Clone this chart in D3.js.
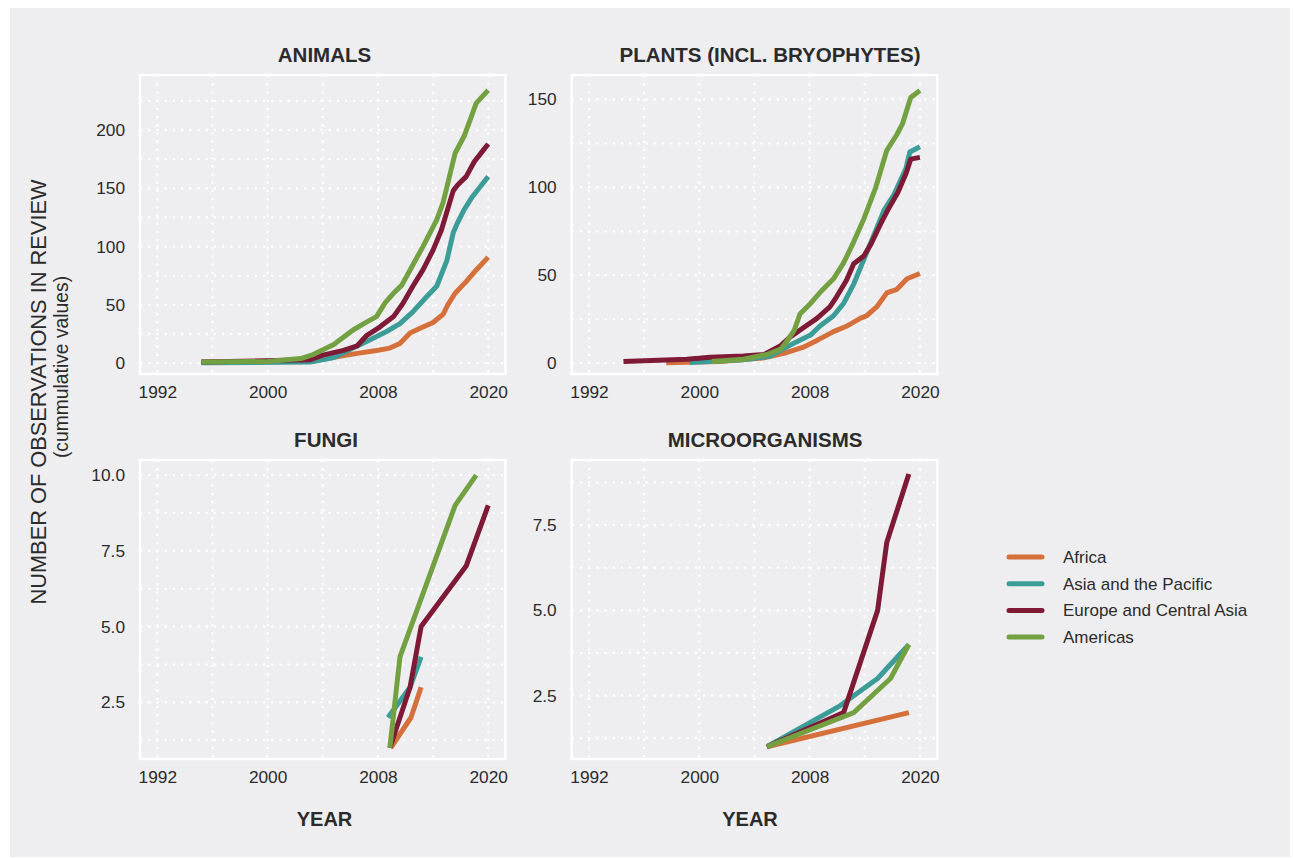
<!DOCTYPE html>
<html><head><meta charset="utf-8">
<script src="https://cdn.jsdelivr.net/npm/d3@7"></script>
<style>
html,body{margin:0;padding:0;background:#fff;}
svg{display:block;font-family:"Liberation Sans", Arial, Helvetica, sans-serif;}
</style></head><body>
<svg id="chart" width="1293" height="859"></svg>
<script>
// ---------------- DATA ----------------
const regions = ["Africa", "Asia and the Pacific", "Europe and Central Asia", "Americas"];
const panelTitles = ["ANIMALS", "PLANTS (INCL. BRYOPHYTES)", "FUNGI", "MICROORGANISMS"];
const xTickValues = [1992, 2000, 2008, 2020];
const yTicksAnimals = [0, 50, 100, 150, 200];
const yTicksPlants = [0, 50, 100, 150];
const yTicksFungi = [2.5, 5.0, 7.5, 10.0];
const yTicksMicro = [2.5, 5.0, 7.5];
const yDomainAnimals = [-9.2, 247.1];
const yDomainPlants = [-6.1, 163.8];
const yDomainFungi = [0.63, 10.5];
const yDomainMicro = [0.64, 9.41];

// [year, cumulative observations]
const animalsAfrica = [[1995.2,1],[2003.1,1.5],[2005,5.5],[2006.5,8.5],[2007.9,11],[2009.3,13],[2010.4,17],[2011.5,26],[2012.6,30],[2014,35],[2015.1,42],[2015.6,50],[2016.4,60],[2017.6,70],[2018.7,80],[2020,91]];
const animalsAsia = [[1995.2,0.5],[2003.1,1],[2004.8,5],[2006.2,13],[2007.4,20],[2008.9,27],[2010.4,34],[2011.8,44],[2013.3,57],[2014.4,66],[2015.5,88],[2016.2,112],[2016.7,121],[2017.4,132],[2018.3,143],[2019.3,153],[2020,160]];
const animalsEurope = [[1995.2,1],[2003.1,3],[2004,7],[2005.5,11],[2006.5,15],[2007.2,24],[2008.2,31],[2009.7,40],[2010.7,51],[2011.8,66],[2012.9,80],[2014,97],[2014.9,114],[2016.2,148],[2016.7,153],[2017.6,160],[2018.5,173],[2019.3,181],[2020,188]];
const animalsAmericas = [[1995.2,1],[2000,1.5],[2002.4,4],[2003.3,7.5],[2004.8,16],[2006.2,28.5],[2007.2,35.5],[2007.9,40],[2008.8,52],[2009.7,60],[2010.6,67],[2011.5,80],[2012.9,100],[2014.4,123],[2015.1,138],[2016.4,180],[2017.4,195],[2018.7,223],[2019.4,229],[2020,234]];

const plantsAfrica = [[1997.6,0.3],[2001.5,1],[2004.6,3],[2006.3,6],[2007.5,9],[2008.8,13],[2010.6,18],[2012,21],[2013.5,25.5],[2014.2,27],[2015.3,32],[2016.4,40],[2017.5,42],[2018.6,48],[2020,51]];
const plantsAsia = [[1999.3,0.5],[2003.2,2],[2005.1,4],[2007,12],[2008.1,16],[2009.1,21],[2010.6,27],[2011.7,34],[2012.8,45],[2013.9,59],[2015.4,78],[2016.1,87],[2017.2,96],[2018.5,111],[2018.9,120],[2020,123]];
const plantsEurope = [[1994.5,1],[1999.1,2.3],[2000.8,3.4],[2003.2,4.2],[2004.7,5],[2005.9,10],[2006.6,15],[2007.6,20.5],[2008.8,25.5],[2010.2,32],[2010.9,37.5],[2012,47],[2012.8,56.5],[2013.9,61],[2014.7,68],[2015.8,80],[2016.6,88],[2017.6,97],[2018.5,108],[2019,116],[2020,117]];
const plantsAmericas = [[2000.9,1],[2003.2,2.3],[2004.9,5],[2005.9,8],[2006.4,13],[2006.9,19],[2007.3,28],[2008.1,34],[2009.1,40],[2010.6,48],[2011.7,57],[2012.8,69],[2013.9,82],[2015.2,100],[2016.4,121],[2017.5,130],[2018.1,136],[2019,151],[2020,155]];

const fungiAfrica = [[2009.4,1],[2011.6,2],[2012.7,3]];
const fungiAsia = [[2009.1,2],[2011.5,3],[2012.7,4]];
const fungiEurope = [[2009.3,1],[2011.5,3],[2012.7,5],[2017.6,7],[2020,9]];
const fungiAmericas = [[2009.3,1],[2010.4,4],[2016.4,9],[2018.7,10]];

const microAfrica = [[2004.9,1],[2018.8,2]];
const microAsia = [[2004.9,1],[2011.3,2.2],[2015.4,3],[2018.8,4]];
const microEurope = [[2004.9,1],[2011.7,2],[2015.4,5],[2016.4,7],[2018.8,9]];
const microAmericas = [[2004.9,1],[2012.8,2],[2016.8,3],[2018.8,4]];

// ---------------- STYLE / LAYOUT ----------------
const regionColors = ["#d6703b", "#3c9c97", "#7e1a36", "#73a142"];
const BG = "#eeeef0";
const TEXT = "#2b2b2b";
const colLeft = [140, 571.7];
const rowTop = [75, 460];
const panelW = 365.5, panelH = 299, padX = 17.3;

const svg = d3.select("#chart");
svg.append("rect").attr("x", 10).attr("y", 8).attr("width", 1280).attr("height", 849).attr("fill", BG);

const panels = [
  {title: panelTitles[0], series: [animalsAfrica, animalsAsia, animalsEurope, animalsAmericas], yDomain: yDomainAnimals, yTicks: yTicksAnimals, fmt: d3.format("d"), col: 0, row: 0, titleX: 324.5},
  {title: panelTitles[1], series: [plantsAfrica, plantsAsia, plantsEurope, plantsAmericas], yDomain: yDomainPlants, yTicks: yTicksPlants, fmt: d3.format("d"), col: 1, row: 0, titleX: 770},
  {title: panelTitles[2], series: [fungiAfrica, fungiAsia, fungiEurope, fungiAmericas], yDomain: yDomainFungi, yTicks: yTicksFungi, fmt: d3.format(".1f"), col: 0, row: 1, titleX: 326},
  {title: panelTitles[3], series: [microAfrica, microAsia, microEurope, microAmericas], yDomain: yDomainMicro, yTicks: yTicksMicro, fmt: d3.format(".1f"), col: 1, row: 1, titleX: 765}
];

panels.forEach(p => {
  const left = colLeft[p.col], top = rowTop[p.row];
  const g = svg.append("g").attr("transform", `translate(${left},${top})`);
  const step = (panelW - 2 * padX) / (xTickValues.length - 1);
  const x = d3.scaleLinear().domain(xTickValues).range(xTickValues.map((d, i) => padX + i * step));
  const y = d3.scaleLinear().domain(p.yDomain).range([panelH, 0]);

  g.append("rect").attr("width", panelW).attr("height", panelH).attr("fill", BG);

  const xGrid = [];
  xTickValues.forEach((d, i) => {
    xGrid.push(d);
    if (i < xTickValues.length - 1) xGrid.push(x.invert((x(d) + x(xTickValues[i + 1])) / 2));
  });
  const yStep = (p.yTicks[1] - p.yTicks[0]) / 2;
  const yGrid = d3.range(Math.ceil(p.yDomain[0] / yStep) * yStep, p.yDomain[1], yStep);

  const grid = g.append("g").attr("stroke", "#ffffff").attr("stroke-width", 2.2).attr("stroke-dasharray", "2.2,6");
  grid.selectAll("line.v").data(xGrid).join("line").attr("class", "v")
    .attr("x1", d => x(d)).attr("x2", d => x(d)).attr("y1", 0).attr("y2", panelH);
  grid.selectAll("line.h").data(yGrid).join("line").attr("class", "h")
    .attr("x1", 0).attr("x2", panelW).attr("y1", d => y(d)).attr("y2", d => y(d));

  const line = d3.line().x(d => x(d[0])).y(d => y(d[1]));
  g.selectAll("path.series").data(p.series).join("path").attr("class", "series")
    .attr("d", line).attr("fill", "none")
    .attr("stroke", (d, i) => regionColors[i]).attr("stroke-width", 5)
    .attr("stroke-linejoin", "round").attr("stroke-linecap", "butt");

  g.append("rect").attr("width", panelW).attr("height", panelH).attr("fill", "none")
    .attr("stroke", "#ffffff").attr("stroke-width", 2.4);

  const ax = g.append("g").attr("transform", `translate(0,${panelH})`)
    .call(d3.axisBottom(x).tickValues(xTickValues).tickFormat(d3.format("d")).tickSize(0).tickPadding(12));
  const ay = g.append("g")
    .call(d3.axisLeft(y).tickValues(p.yTicks).tickFormat(p.fmt).tickSize(0).tickPadding(15));
  [ax, ay].forEach(a => {
    a.select(".domain").remove();
    a.selectAll("text").attr("font-size", 17.3).attr("fill", TEXT).attr("font-family", "Liberation Sans, Arial, sans-serif");
  });

  svg.append("text").attr("x", p.titleX).attr("y", top - 13)
    .attr("text-anchor", "middle").attr("font-size", 20.5).attr("font-weight", "bold")
    .attr("fill", TEXT).text(p.title);
});

[324.5, 750].forEach(cx => {
  svg.append("text").attr("x", cx).attr("y", 826).attr("text-anchor", "middle")
    .attr("font-size", 20).attr("font-weight", "bold").attr("fill", TEXT).text("YEAR");
});

svg.append("text").attr("transform", "translate(46,392) rotate(-90)").attr("text-anchor", "middle")
  .attr("font-size", 21.8).attr("fill", TEXT).text("NUMBER OF OBSERVATIONS IN REVIEW");
svg.append("text").attr("transform", "translate(68,367) rotate(-90)").attr("text-anchor", "middle")
  .attr("font-size", 19.3).attr("fill", TEXT).text("(cummulative values)");

const legend = svg.append("g").attr("transform", "translate(1007,557)");
const li = legend.selectAll("g").data(regions).join("g").attr("transform", (d, i) => `translate(0,${i * 26.7})`);
li.append("line").attr("x1", 2).attr("x2", 35).attr("y1", 0).attr("y2", 0)
  .attr("stroke", (d, i) => regionColors[i]).attr("stroke-width", 5).attr("stroke-linecap", "round");
li.append("text").attr("x", 56).attr("y", 0).attr("dy", "0.35em").attr("font-size", 17)
  .attr("fill", TEXT).text(d => d);
</script>
</body></html>
